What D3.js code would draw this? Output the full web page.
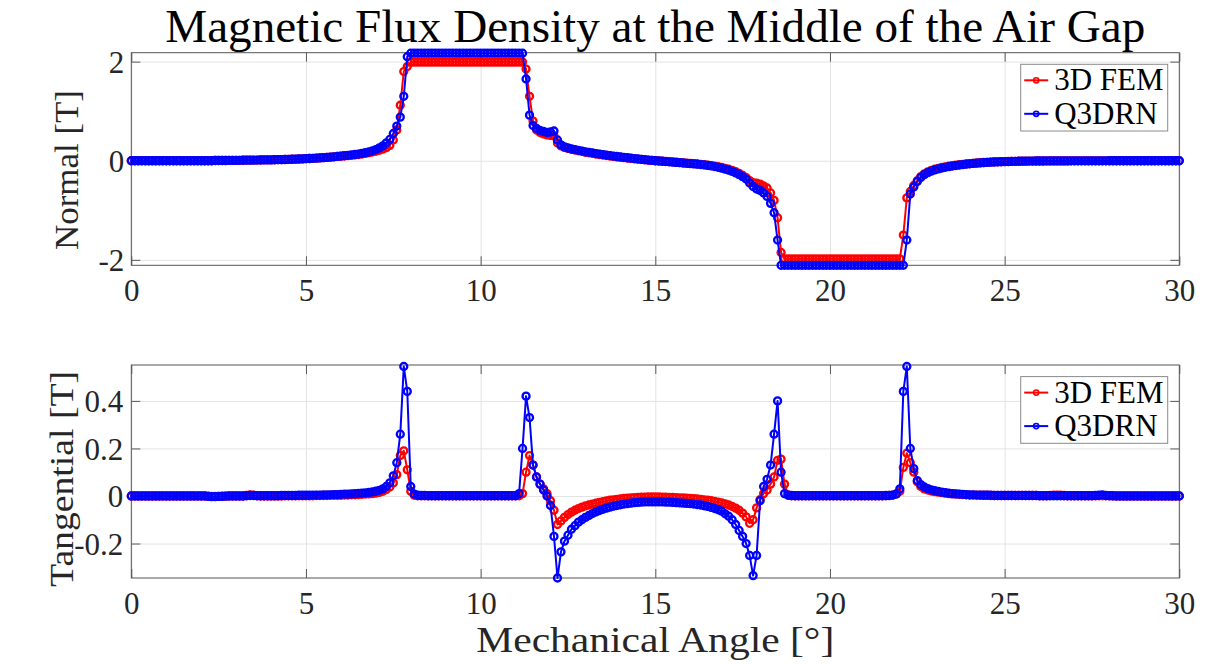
<!DOCTYPE html>
<html>
<head>
<meta charset="utf-8">
<script src="https://cdnjs.cloudflare.com/ajax/libs/d3/7.8.5/d3.min.js"></script>
<style>
body { margin: 0; background: #fff; }
svg text { font-family: "Liberation Serif", "Times New Roman", serif; fill: #262626; }
.grid line { stroke: #e3e3e3; stroke-width: 1; }
.grid path, .ticks path, .labels path, .labels line { display: none; }
.ticks line { stroke: #5a5a5a; stroke-width: 1; }
.frame { fill: none; stroke: #555; stroke-width: 1; }
.legend-box { fill: #fff; stroke: #8a8a8a; stroke-width: 1; }
</style>
</head>
<body>
<div class="chart"></div>
<script>
// sampling grid of the mechanical angle, 0.1 deg
const angle = d3.range(0, 301).map(i => i / 10)

const xTicks = [0, 5, 10, 15, 20, 25, 30]
const normalTicks = [-2, 0, 2]
const normalTickLabels = ["-2", "0", "2"]
const tangTicks = [-0.2, 0, 0.2, 0.4]
const tangTickLabels = ["-0.2", "0", "0.2", "0.4"]
const seriesNames = ["3D FEM", "Q3DRN"]

// normal component, 3D FEM
const normalFem = [
  0,0,0,0,0,0,0,0,0,0,
  0,0,0,0,0,0,0,0,0,0,
  0,0,0,0,0.005,0.005,0.005,0.005,0.006,0.007,
  0.008,0.009,0.01,0.011,0.012,0.013,0.014,0.015,0.016,0.017,
  0.018,0.02,0.021,0.023,0.025,0.027,0.03,0.032,0.035,0.038,
  0.042,0.045,0.049,0.053,0.057,0.062,0.067,0.073,0.079,0.086,
  0.09,0.096,0.103,0.11,0.118,0.126,0.136,0.147,0.16,0.175,
  0.19,0.21,0.235,0.265,0.31,0.42,0.62,1.12,1.8,1.9,
  1.99,1.99,1.99,1.99,1.99,1.99,1.99,1.99,1.99,1.99,
  1.99,1.99,1.99,1.99,1.99,1.99,1.99,1.99,1.99,1.99,
  1.99,1.99,1.99,1.99,1.99,1.99,1.99,1.99,1.99,1.99,
  1.99,1.99,1.99,1.85,1.3,0.8,0.62,0.57,0.54,0.52,
  0.51,0.5,0.36,0.3,0.27,0.25,0.23,0.215,0.2,0.19,
  0.17,0.16,0.15,0.136,0.126,0.116,0.106,0.096,0.087,0.078,
  0.07,0.062,0.055,0.048,0.04,0.033,0.026,0.019,0.012,0.006,
  0,-0.003,-0.008,-0.013,-0.019,-0.025,-0.031,-0.037,-0.043,-0.049,
  -0.055,-0.06,-0.066,-0.072,-0.079,-0.087,-0.097,-0.108,-0.121,-0.136,
  -0.153,-0.172,-0.195,-0.222,-0.255,-0.295,-0.34,-0.4,-0.44,-0.45,
  -0.47,-0.51,-0.55,-0.65,-0.8,-1.15,-1.85,-1.98,-1.98,-1.98,
  -1.98,-1.98,-1.98,-1.98,-1.98,-1.98,-1.98,-1.98,-1.98,-1.98,
  -1.98,-1.98,-1.98,-1.98,-1.98,-1.98,-1.98,-1.98,-1.98,-1.98,
  -1.98,-1.98,-1.98,-1.98,-1.98,-1.98,-1.98,-1.98,-1.98,-1.98,
  -1.98,-1.5,-0.75,-0.62,-0.5,-0.4,-0.32,-0.265,-0.225,-0.195,
  -0.172,-0.153,-0.137,-0.123,-0.111,-0.1,-0.09,-0.081,-0.073,-0.065,
  -0.058,-0.052,-0.046,-0.041,-0.036,-0.032,-0.028,-0.025,-0.022,-0.019,
  -0.017,-0.015,-0.013,-0.011,-0.01,-0.009,-0.008,-0.007,-0.006,-0.005,
  -0.005,-0.005,-0.004,-0.004,-0.004,-0.003,-0.003,-0.003,-0.003,-0.002,
  -0.002,-0.002,-0.002,-0.002,-0.002,-0.001,-0.001,-0.001,-0.001,-0.001,
  0,0,0,0,0,0,0,0,0,0,
  0,0,0,0,0,0,0,0,0,0,
  0
]

// normal component, Q3DRN
const normalQ3drn = [
  0,0,0,0,0,0,0,0,0,0,
  0,0,0,0,0,0,0,0,0,0,
  0,0,0,0,0.005,0.005,0.005,0.005,0.006,0.007,
  0.008,0.009,0.01,0.011,0.012,0.013,0.014,0.015,0.016,0.017,
  0.018,0.02,0.021,0.023,0.025,0.027,0.03,0.032,0.035,0.038,
  0.042,0.045,0.049,0.053,0.057,0.062,0.067,0.073,0.079,0.086,
  0.095,0.102,0.11,0.118,0.126,0.135,0.148,0.163,0.18,0.2,
  0.225,0.26,0.3,0.36,0.43,0.55,0.7,0.88,1.3,2.1,
  2.17,2.17,2.17,2.17,2.17,2.17,2.17,2.17,2.17,2.17,
  2.17,2.17,2.17,2.17,2.17,2.17,2.17,2.17,2.17,2.17,
  2.17,2.17,2.17,2.17,2.17,2.17,2.17,2.17,2.17,2.17,
  2.17,2.17,2.17,1.65,0.92,0.71,0.65,0.61,0.59,0.57,
  0.58,0.6,0.42,0.32,0.28,0.26,0.24,0.225,0.21,0.195,
  0.18,0.17,0.16,0.145,0.135,0.125,0.115,0.105,0.095,0.085,
  0.076,0.068,0.06,0.052,0.044,0.037,0.029,0.022,0.014,0.007,
  0,-0.005,-0.01,-0.016,-0.022,-0.028,-0.034,-0.04,-0.046,-0.052,
  -0.058,-0.064,-0.07,-0.077,-0.085,-0.094,-0.105,-0.118,-0.133,-0.15,
  -0.17,-0.19,-0.215,-0.245,-0.28,-0.32,-0.37,-0.45,-0.52,-0.57,
  -0.6,-0.65,-0.72,-0.86,-1.05,-1.6,-2.11,-2.11,-2.11,-2.11,
  -2.11,-2.11,-2.11,-2.11,-2.11,-2.11,-2.11,-2.11,-2.11,-2.11,
  -2.11,-2.11,-2.11,-2.11,-2.11,-2.11,-2.11,-2.11,-2.11,-2.11,
  -2.11,-2.11,-2.11,-2.11,-2.11,-2.11,-2.11,-2.11,-2.11,-2.11,
  -2.11,-2.11,-1.6,-0.67,-0.53,-0.42,-0.34,-0.28,-0.24,-0.21,
  -0.185,-0.165,-0.148,-0.133,-0.12,-0.108,-0.097,-0.087,-0.078,-0.07,
  -0.062,-0.055,-0.049,-0.043,-0.038,-0.034,-0.03,-0.026,-0.023,-0.02,
  -0.018,-0.016,-0.014,-0.012,-0.01,-0.009,-0.008,-0.007,-0.006,-0.005,
  -0.005,-0.005,-0.004,-0.004,-0.004,-0.003,-0.003,-0.003,-0.003,-0.002,
  -0.002,-0.002,-0.002,-0.002,-0.002,-0.001,-0.001,-0.001,-0.001,-0.001,
  0,0,0,0,0,0,0,0,0,0,
  0,0,0,0,0,0,0,0,0,0,
  0
]

// tangential component, 3D FEM
const tangFem = [
  0,0,0,0,0,0,0,0,0,0,
  0,0,0,0,0,0,0,0,0,0,
  0,0,-0.001,-0.002,-0.002,-0.002,-0.001,-0.001,0,0,
  0,0,0,0.002,0.005,0.003,0.001,0,0,0,
  0,0,0,0,0.001,0.001,0.001,0.001,0.001,0.001,
  0.001,0.001,0.001,0.002,0.002,0.002,0.002,0.003,0.003,0.003,
  0.003,0.004,0.004,0.005,0.005,0.006,0.007,0.008,0.009,0.01,
  0.012,0.015,0.02,0.027,0.038,0.055,0.09,0.17,0.19,0.11,
  0.02,0.003,0.001,0.001,0.001,0.001,0.001,0.001,0.001,0.001,
  0.001,0.001,0.001,0.001,0.001,0.001,0.001,0.001,0.001,0.001,
  0.001,0.001,0.001,0.001,0.001,0.001,0.001,0.001,0.001,0.001,
  0.001,0.001,0.01,0.1,0.17,0.13,0.08,0.05,0.03,0.01,
  -0.02,-0.06,-0.12,-0.105,-0.09,-0.078,-0.068,-0.06,-0.053,-0.047,
  -0.042,-0.038,-0.034,-0.03,-0.027,-0.024,-0.021,-0.018,-0.016,-0.014,
  -0.012,-0.01,-0.009,-0.008,-0.007,-0.006,-0.005,-0.005,-0.004,-0.004,
  -0.004,-0.004,-0.005,-0.005,-0.006,-0.006,-0.007,-0.008,-0.008,-0.009,
  -0.01,-0.011,-0.012,-0.014,-0.016,-0.018,-0.02,-0.023,-0.026,-0.029,
  -0.033,-0.038,-0.044,-0.051,-0.06,-0.072,-0.088,-0.115,-0.1,-0.05,
  -0.015,0.01,0.025,0.05,0.08,0.15,0.155,0.05,0.005,0.001,
  0.001,0.001,0.001,0.001,0.001,0.001,0.001,0.001,0.001,0.001,
  0.001,0.001,0.001,0.001,0.001,0.001,0.001,0.001,0.001,0.001,
  0.001,0.001,0.001,0.001,0.001,0.001,0.001,0.002,0.004,0.008,
  0.02,0.12,0.18,0.14,0.1,0.06,0.04,0.03,0.025,0.021,
  0.018,0.016,0.014,0.012,0.01,0.009,0.008,0.007,0.006,0.005,
  0.004,0.004,0.004,0.003,0.003,0.003,0.002,0.002,0.002,0.002,
  0.002,0.002,0.002,0.002,0.002,0.002,0.002,0.002,0.002,0.002,
  0.001,0.001,0.001,0.002,0.003,0.004,0.003,0.002,0.001,0.001,
  0.001,0.001,0.001,0.001,0.001,0.001,0.001,0.001,0.001,0.001,
  0.001,0,0,0,0,0,0,0,0,0,
  0,0,0,0,0,0,0,0,0,0,
  0
]

// tangential component, Q3DRN
const tangQ3drn = [
  0,0,0,0,0,0,0,0,0,0,
  0,0,0,0,0,0,0,0,0,0,
  0,0,-0.002,-0.003,-0.003,-0.002,-0.002,-0.001,0,0,
  0,0,0,0.001,0.002,0.002,0.001,0.001,0.001,0.001,
  0.001,0.001,0.001,0.002,0.002,0.002,0.002,0.002,0.003,0.003,
  0.003,0.003,0.004,0.004,0.004,0.005,0.005,0.005,0.006,0.006,
  0.007,0.008,0.008,0.009,0.01,0.011,0.012,0.013,0.015,0.017,
  0.02,0.024,0.03,0.04,0.055,0.085,0.14,0.26,0.545,0.44,
  0.04,0.008,0.003,0.002,0.002,0.001,0.001,0.001,0.001,0.001,
  0.001,0.001,0.001,0.001,0.001,0.001,0.001,0.001,0.001,0.001,
  0.001,0.001,0.001,0.001,0.001,0.001,0.001,0.001,0.001,0.001,
  0.001,0.01,0.2,0.42,0.33,0.13,0.08,0.05,0.025,0,
  -0.04,-0.17,-0.345,-0.235,-0.19,-0.165,-0.14,-0.125,-0.11,-0.1,
  -0.09,-0.082,-0.074,-0.067,-0.061,-0.056,-0.051,-0.047,-0.043,-0.04,
  -0.037,-0.034,-0.032,-0.03,-0.028,-0.027,-0.026,-0.025,-0.025,-0.025,
  -0.025,-0.025,-0.025,-0.026,-0.026,-0.027,-0.028,-0.029,-0.03,-0.031,
  -0.032,-0.034,-0.036,-0.038,-0.041,-0.044,-0.048,-0.053,-0.058,-0.064,
  -0.075,-0.085,-0.1,-0.12,-0.145,-0.17,-0.2,-0.25,-0.335,-0.25,
  -0.02,0.04,0.07,0.13,0.26,0.4,0.1,0.01,0.003,0.002,
  0.001,0.001,0.001,0.001,0.001,0.001,0.001,0.001,0.001,0.001,
  0.001,0.001,0.001,0.001,0.001,0.001,0.001,0.001,0.001,0.001,
  0.001,0.001,0.001,0.001,0.001,0.001,0.002,0.002,0.004,0.009,
  0.03,0.44,0.545,0.2,0.115,0.065,0.048,0.038,0.031,0.026,
  0.022,0.019,0.016,0.014,0.012,0.01,0.009,0.008,0.007,0.006,
  0.005,0.005,0.004,0.004,0.003,0.003,0.003,0.002,0.002,0.002,
  0.002,0.002,0.002,0.002,0.002,0.002,0.002,0.002,0.002,0.002,
  0.001,0.001,0.001,0.001,0.001,0.001,0.001,0.001,0.001,0.001,
  0.001,0.001,0.001,0.001,0.001,0.001,0.002,0.003,0.005,0.002,
  0.001,0.001,0,0,0,0,0,0,0,0,
  0,0,0,0,0,0,0,0,0,0,
  0
]

const $chart = d3.select('.chart')

const width = 1214
const height = 664
const left = 131.3
const right = 1179.3
const colors = ["#ff0000", "#0000ff"]
const serif = '"Liberation Serif", "Times New Roman", serif'

const svg = $chart.append("svg")
  .attr("width", width)
  .attr("height", height)
  .style("font-family", serif)

const x = d3.scaleLinear()
  .domain([0, 30])
  .range([left, right])

svg.append("text")
  .attr("x", (left + right) / 2)
  .attr("y", 42)
  .attr("text-anchor", "middle")
  .attr("textLength", 980)
  .attr("lengthAdjust", "spacingAndGlyphs")
  .style("font-size", "46px")
  .style("fill", "#000")
  .text("Magnetic Flux Density at the Middle of the Air Gap")

function drawPanel(opt) {
  const y = d3.scaleLinear()
    .domain(opt.yDomain)
    .range([opt.bottom, opt.top])
  const h = opt.bottom - opt.top

  // grid
  svg.append("g")
    .attr("class", "grid")
    .attr("transform", `translate(0,${opt.bottom})`)
    .call(d3.axisBottom(x).tickValues(xTicks).tickSize(-h).tickFormat(""))
  svg.append("g")
    .attr("class", "grid")
    .attr("transform", `translate(${left},0)`)
    .call(d3.axisLeft(y).tickValues(opt.yTicks).tickSize(-(right - left)).tickFormat(""))

  // inner ticks on all four sides
  svg.append("g").attr("class", "ticks")
    .attr("transform", `translate(0,${opt.bottom})`)
    .call(d3.axisBottom(x).tickValues(xTicks).tickSize(-9).tickFormat(""))
  svg.append("g").attr("class", "ticks")
    .attr("transform", `translate(0,${opt.top})`)
    .call(d3.axisTop(x).tickValues(xTicks).tickSize(-9).tickFormat(""))
  svg.append("g").attr("class", "ticks")
    .attr("transform", `translate(${left},0)`)
    .call(d3.axisLeft(y).tickValues(opt.yTicks).tickSize(-9).tickFormat(""))
  svg.append("g").attr("class", "ticks")
    .attr("transform", `translate(${right},0)`)
    .call(d3.axisRight(y).tickValues(opt.yTicks).tickSize(-9).tickFormat(""))

  svg.append("rect")
    .attr("class", "frame")
    .attr("x", left)
    .attr("y", opt.top)
    .attr("width", right - left)
    .attr("height", h)

  // tick labels
  const xl = svg.append("g").attr("class", "labels")
    .attr("transform", `translate(0,${opt.bottom})`)
    .call(d3.axisBottom(x).tickValues(xTicks).tickSize(0))
    .attr("font-family", serif)
    .attr("font-size", 31)
  xl.selectAll("text")
    .attr("y", 36)
    .attr("dy", 0)
    .style("font-family", serif)
    .style("font-size", "31px")
    .style("fill", "#262626")

  const yl = svg.append("g").attr("class", "labels")
    .attr("transform", `translate(${left},0)`)
    .call(d3.axisLeft(y).tickValues(opt.yTicks).tickSize(0)
      .tickFormat((d, i) => opt.yTickLabels[i]))
    .attr("font-family", serif)
    .attr("font-size", 31)
  yl.selectAll("text")
    .attr("x", opt.labelPad)
    .attr("dy", "0.35em")
    .style("font-family", serif)
    .style("font-size", "31px")
    .style("fill", "#262626")

  // y label
  svg.append("text")
    .attr("transform", `translate(${opt.labelX},${opt.labelCenter}) rotate(-90)`)
    .attr("text-anchor", "middle")
    .attr("textLength", opt.labelLength)
    .attr("lengthAdjust", "spacingAndGlyphs")
    .style("font-size", "33px")
    .text(opt.ylabel)

  // series: red first, blue on top
  opt.series.forEach(function(values, k) {
    const line = d3.line()
      .x((d, i) => x(angle[i]))
      .y(d => y(d))

    svg.append("path")
      .datum(values)
      .attr("d", line)
      .style("fill", "none")
      .style("stroke", colors[k])
      .style("stroke-width", 2)
      .style("stroke-linejoin", "round")

    svg.append("g")
      .selectAll("circle")
      .data(values)
      .join("circle")
      .attr("cx", (d, i) => x(angle[i]))
      .attr("cy", d => y(d))
      .attr("r", 3.5)
      .style("fill", "none")
      .style("stroke", colors[k])
      .style("stroke-width", 2.3)
  })

  // legend
  const lg = svg.append("g")
    .attr("transform", `translate(1020.7,${opt.top + 11.6})`)
  lg.append("rect")
    .attr("class", "legend-box")
    .attr("width", 147)
    .attr("height", 66.7)
  seriesNames.forEach(function(name, k) {
    const ly = 16 + k * 33.5
    lg.append("line")
      .attr("x1", 3.5).attr("x2", 27.5)
      .attr("y1", ly).attr("y2", ly)
      .style("stroke", colors[k])
      .style("stroke-width", 2)
    lg.append("circle")
      .attr("cx", 15.5).attr("cy", ly)
      .attr("r", 2.6)
      .style("fill", "none")
      .style("stroke", colors[k])
      .style("stroke-width", 1.6)
    lg.append("text")
      .attr("x", 33.5)
      .attr("y", ly + 10)
      .style("font-size", "31px")
      .style("fill", "#000")
      .text(name)
  })
}

drawPanel({
  top: 52.7,
  bottom: 265.3,
  yDomain: [-2.11, 2.18],
  yTicks: normalTicks,
  yTickLabels: normalTickLabels,
  labelPad: -7,
  labelX: 78,
  ylabel: "Normal [T]",
  labelLength: 160,
  labelCenter: 170,
  series: [normalFem, normalQ3drn]
})

drawPanel({
  top: 365,
  bottom: 578,
  yDomain: [-0.345, 0.551],
  yTicks: tangTicks,
  yTickLabels: tangTickLabels,
  labelPad: -8,
  labelX: 73,
  ylabel: "Tangential [T]",
  labelLength: 216,
  labelCenter: 479,
  series: [tangFem, tangQ3drn]
})

svg.append("text")
  .attr("x", (left + right) / 2)
  .attr("y", 652)
  .attr("text-anchor", "middle")
  .attr("textLength", 358)
  .attr("lengthAdjust", "spacingAndGlyphs")
  .style("font-size", "36px")
  .text("Mechanical Angle [\u00b0]")
</script>
</body>
</html>
